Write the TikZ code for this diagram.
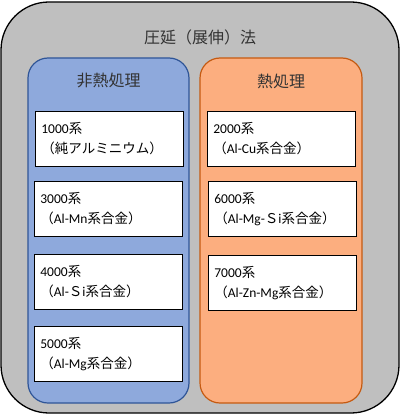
\documentclass[tikz,border=0pt]{standalone}
\usepackage{fontspec}
\setmainfont{Noto Sans CJK JP}
\newfontfamily\latfont{Carlito}
\newcommand{\lat}[1]{{\latfont #1}}

\begin{document}
\begin{tikzpicture}[x=1pt, y=-1pt]
    \definecolor{greyFill}{HTML}{BFBFBF}
    \definecolor{blueFill}{HTML}{8EA9DC}
    \definecolor{blueBorder}{HTML}{2F5597}
    \definecolor{orangeFill}{HTML}{FCAE7F}
    \definecolor{orangeBorder}{HTML}{C55A11}

    \tikzset{
        alloybox/.style={draw=black, fill=white, line width=0.8pt, anchor=north west,
            text width=136pt, inner xsep=6pt, inner ysep=0pt, minimum height=55pt,
            align=left, font=\fontsize{13.5}{20}\selectfont},
        heading/.style={font=\fontsize{16}{20}\selectfont, text=black!80}
    }

    \useasboundingbox (0,0) rectangle (400,417);

    % Draw outer box
    \draw[fill=greyFill, draw=black, line width=1.3pt, rounded corners=48pt] (1,2) rectangle (399,413);
    \node[heading] (title) at (200,37) {圧延（展伸）法};

    % Draw columns
    \draw[fill=blueFill, draw=blueBorder, line width=1.2pt, rounded corners=20pt] (28,58) rectangle (189,403);
    \draw[fill=orangeFill, draw=orangeBorder, line width=1.2pt, rounded corners=20pt] (200,58) rectangle (362,403);
    \node[heading] (nonheat) at (108.5,81) {非熱処理};
    \node[heading] (heat) at (281,81) {熱処理};

    % Non heat treatable alloys
    \node[alloybox] (a1000) at (35,111) {\lat{1000}系\\（純アルミニウム）};
    \node[alloybox] (a3000) at (34,181) {\lat{3000}系\\（\lat{Al-Mn}系合金）};
    \node[alloybox] (a4000) at (34,254) {\lat{4000}系\\（\lat{Al-}Ｓ\lat{i}系合金）};
    \node[alloybox] (a5000) at (34,326) {\lat{5000}系\\（\lat{Al-Mg}系合金）};

    % Heat treatable alloys
    \node[alloybox] (a2000) at (207,111) {\lat{2000}系\\（\lat{Al-Cu}系合金）};
    \node[alloybox] (a6000) at (208,181) {\lat{6000}系\\（\lat{Al-Mg-}Ｓ\lat{i}系合金）};
    \node[alloybox] (a7000) at (208,255) {\lat{7000}系\\（\lat{Al-Zn-Mg}系合金）};

\end{tikzpicture}
\end{document}
